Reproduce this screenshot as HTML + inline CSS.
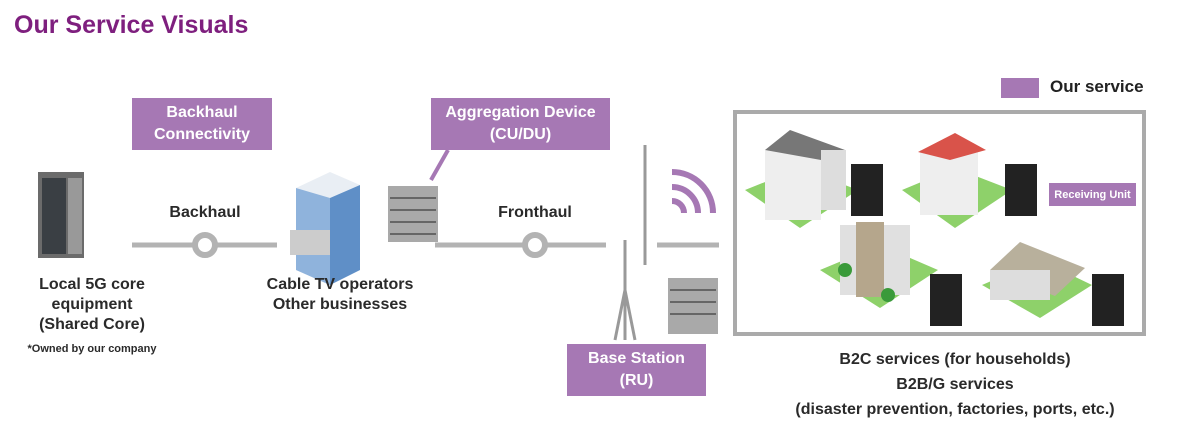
<!DOCTYPE html>
<html><head><meta charset="utf-8"><style>
body{margin:0;width:1178px;height:427px;background:#fff;position:relative;overflow:hidden;font-family:"Liberation Sans",sans-serif;color:#222}
.a{position:absolute}
.p{position:absolute;background:#a678b4;color:#fff;font-weight:bold;text-align:center;font-size:16px;line-height:22px;display:flex;align-items:center;justify-content:center}
.t{position:absolute;text-align:center;font-weight:bold;font-size:16px;line-height:20px;color:#2a2a2a}
</style></head><body>
<div class="a" style="left:14px;top:11px;font-size:25px;font-weight:bold;color:#7e1f7e">Our Service Visuals</div>
<div class="p" style="left:132px;top:98px;width:140px;height:52px">Backhaul<br>Connectivity</div>
<div class="p" style="left:431px;top:98px;width:179px;height:52px">Aggregation Device<br>(CU/DU)</div>
<div class="p" style="left:567px;top:344px;width:139px;height:52px">Base Station<br>(RU)</div>
<div class="a" style="left:1001px;top:78px;width:38px;height:20px;background:#a678b4"></div>
<div class="a" style="left:1050px;top:77px;font-size:17px;font-weight:bold">Our service</div>
<div class="a" style="left:733px;top:110px;width:405px;height:218px;border:4px solid #aaa"></div>
<div class="p" style="left:1049px;top:183px;width:87px;height:23px;font-size:11px">Receiving Unit</div>
<svg class="a" style="left:0;top:0" width="1178" height="427">
<g stroke="#b3b3b3" stroke-width="5" fill="#fff">
<line x1="132" y1="245" x2="277" y2="245"/><line x1="435" y1="245" x2="606" y2="245"/><line x1="657" y1="245" x2="719" y2="245"/>
<circle cx="205" cy="245" r="10" stroke-width="6"/><circle cx="535" cy="245" r="10" stroke-width="6"/></g>
<line x1="448" y1="150" x2="431" y2="180" stroke="#a678b4" stroke-width="4"/>
<g fill="none" stroke="#a678b4" stroke-width="6"><path d="M672 201 A12 12 0 0 1 684 213"/><path d="M672 187 A26 26 0 0 1 698 213"/><path d="M672 172 A41 41 0 0 1 713 213"/></g>
<rect x="38" y="172" width="46" height="86" fill="#6b6b6b"/><rect x="42" y="178" width="24" height="76" fill="#3a3f44"/><rect x="68" y="178" width="14" height="76" fill="#999"/>
<polygon points="296,188 330,172 360,185 360,270 330,285 296,270" fill="#e9eef4"/><polygon points="330,198 360,185 360,270 330,285" fill="#5f8fc7"/><polygon points="296,188 330,198 330,285 296,270" fill="#8fb3dc"/><rect x="290" y="230" width="40" height="25" fill="#ccc"/>
<rect x="388" y="186" width="50" height="56" fill="#a9a9a9"/><g stroke="#666" stroke-width="2"><line x1="390" y1="198" x2="436" y2="198"/><line x1="390" y1="210" x2="436" y2="210"/><line x1="390" y1="222" x2="436" y2="222"/><line x1="390" y1="234" x2="436" y2="234"/></g>
<g stroke="#999" stroke-width="3"><line x1="645" y1="145" x2="645" y2="265"/><line x1="625" y1="240" x2="625" y2="340"/><line x1="615" y1="340" x2="625" y2="290"/><line x1="635" y1="340" x2="625" y2="290"/></g>
<rect x="668" y="278" width="50" height="56" fill="#a9a9a9"/><g stroke="#666" stroke-width="2"><line x1="670" y1="290" x2="716" y2="290"/><line x1="670" y1="302" x2="716" y2="302"/><line x1="670" y1="314" x2="716" y2="314"/></g>
<polygon points="745,190 800,168 858,190 800,228" fill="#8ed16a"/><rect x="765" y="150" width="56" height="70" fill="#eee"/><polygon points="765,150 790,130 845,150 821,160" fill="#777"/><rect x="821" y="150" width="25" height="60" fill="#ddd"/>
<polygon points="902,190 955,168 1012,190 955,228" fill="#8ed16a"/><rect x="920" y="150" width="58" height="65" fill="#eee"/><polygon points="918,152 955,133 986,150 950,160" fill="#d9534a"/>
<polygon points="820,270 880,245 938,270 880,308" fill="#8ed16a"/><rect x="840" y="225" width="70" height="70" fill="#e0e0e0"/><rect x="856" y="222" width="28" height="75" fill="#b5a68c"/><circle cx="845" cy="270" r="7" fill="#3a9a3a"/><circle cx="888" cy="295" r="7" fill="#3a9a3a"/>
<polygon points="982,285 1040,260 1092,285 1040,318" fill="#8ed16a"/><polygon points="990,270 1020,242 1085,268 1055,296" fill="#b8b09c"/><rect x="990" y="270" width="60" height="30" fill="#ddd"/>
<g fill="#222"><rect x="851" y="164" width="32" height="52"/><rect x="1005" y="164" width="32" height="52"/><rect x="930" y="274" width="32" height="52"/><rect x="1092" y="274" width="32" height="52"/></g>
</svg>
<div class="t" style="left:150px;top:203px;width:110px">Backhaul</div>
<div class="t" style="left:480px;top:203px;width:110px">Fronthaul</div>
<div class="t" style="left:12px;top:275px;width:160px">Local 5G core<br>equipment<br>(Shared Core)</div>
<div class="t" style="left:12px;top:339px;width:160px;font-size:11px">*Owned by our company</div>
<div class="t" style="left:250px;top:275px;width:180px">Cable TV operators<br>Other businesses</div>
<div class="t" style="left:755px;top:347px;width:400px;line-height:25px">B2C services (for households)<br>B2B/G services<br>(disaster prevention, factories, ports, etc.)</div>
</body></html>
